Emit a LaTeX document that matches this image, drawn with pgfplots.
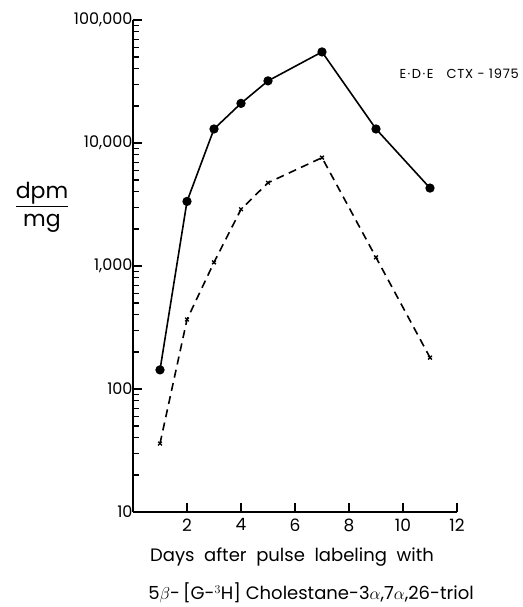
\documentclass[border=0pt]{standalone}
\usepackage{amsmath}
\usepackage{fontspec}
\setmainfont{Poppins}
\usepackage{pgfplots}
\pgfplotsset{compat=1.18}

\begin{document}
\begin{tikzpicture}
\useasboundingbox (-133pt,-95pt) rectangle (389pt,512pt);
\begin{axis}[
  at={(0pt,0pt)}, anchor=south west,
  scale only axis,
  width=324pt, height=492pt,
  ymode=log,
  xmin=0, xmax=12,
  ymin=10, ymax=100000,
  axis x line*=bottom,
  axis y line*=left,
  axis line style={line width=1.2pt},
  xtick={2,4,6,8,10,12},
  ytick={10,100,1000,10000,100000},
  yticklabels={10,100,{1,000},{10,000},{100,000}},
  minor ytick={20,30,40,50,60,70,80,90,
               200,300,400,500,600,700,800,900,
               2000,3000,4000,5000,6000,7000,8000,9000,
               20000,30000,40000,50000,60000,70000,80000,90000},
  xtick align=inside,
  ytick align=inside,
  major tick length=9pt,
  minor tick length=6pt,
  major tick style={draw=black, line width=1.3pt},
  minor tick style={draw=black, line width=1.1pt},
  /pgf/number format/assume math mode=true,
  ticklabel style={font=\fontsize{16}{18}\selectfont},
  xticklabel style={font=\fontsize{17}{19}\selectfont, yshift=-3pt},
  yticklabel style={xshift=3pt},
  clip=false,
]
% solid: filled circles
\addplot[black, line width=1.6pt, mark=*, mark size=3.8pt] coordinates {
  (1,143) (2,3350) (3,13000) (4,21000) (5,32000) (7,55000) (9,13000) (11,4300)
};
% dashed: x marks
\addplot[black, line width=1.6pt, dash pattern=on 8pt off 5.5pt,
  mark=x, mark size=2.6pt, mark options={solid, line width=1.3pt}] coordinates {
  (1,36) (2,367) (3,1070) (4,2890) (5,4750) (7,7600) (9,1175) (11,180)
};
\end{axis}
\node[anchor=west, font=\fontsize{13}{15}\selectfont\addfontfeature{LetterSpace=6}] at (263pt,438pt)
  {E{\kern1.5pt}\textperiodcentered{\kern1.5pt}D{\kern1.5pt}\textperiodcentered{\kern1.5pt}E\quad CTX - 1975};
\node[font=\fontsize{22}{24}\selectfont] at (-91pt,305pt)
  {$\dfrac{\text{dpm}}{\text{mg}}$};
\node[font=\fontsize{18}{20}\selectfont] at (159pt,-45pt)
  {Days\ \ after\ \ pulse\ \ labeling\ \ with};
\node[font=\fontsize{18}{20}\selectfont] at (178pt,-81pt)
  {5$\beta$-\,[G-$^{3}$H]\ Cholestane-3$\alpha$,7$\alpha$,26-triol};
\end{tikzpicture}
\end{document}
